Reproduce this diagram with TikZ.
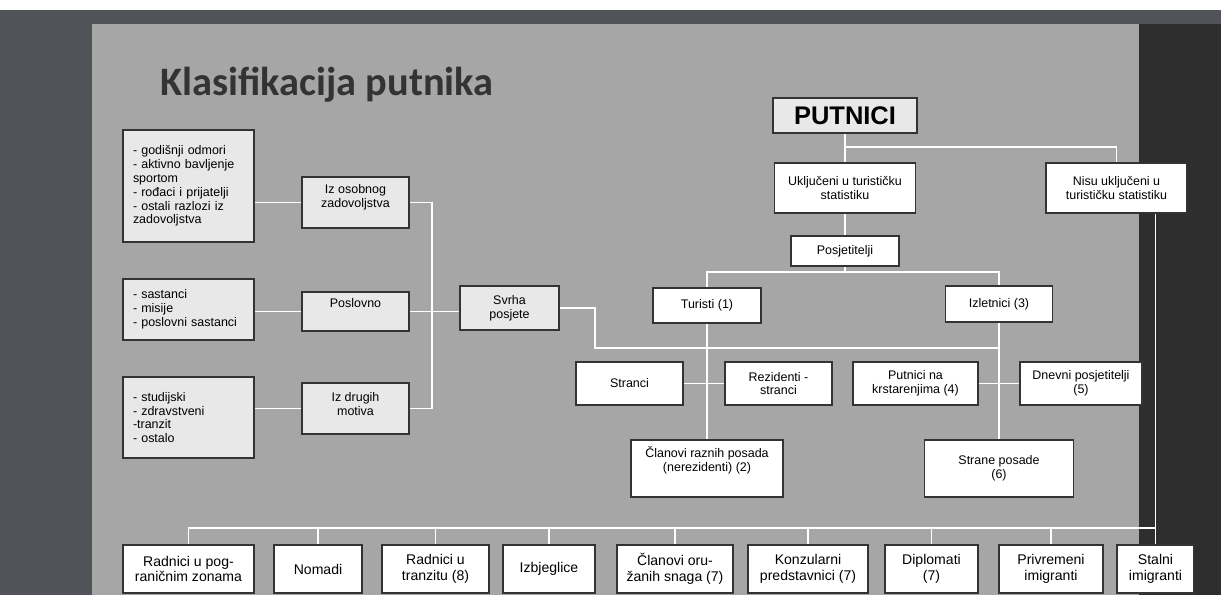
\documentclass[tikz,border=0pt]{standalone}
\usepackage{fontspec}
\setmainfont{Liberation Sans}
\newfontfamily\titlefont{Carlito}
\usetikzlibrary{backgrounds}
\definecolor{slidegrey}{HTML}{A6A6A6}
\definecolor{framegrey}{HTML}{505458}
\definecolor{sidedark}{HTML}{2E2E2E}
\definecolor{boxgrey}{HTML}{E8E8E8}
\definecolor{titletext}{HTML}{333333}

\begin{document}
\begin{tikzpicture}[x=0.02cm,y=-0.02cm,
	white node/.style={draw=black!80,line width=0.8pt,fill=white,inner sep=2pt,align=center,
		font=\fontsize{7.1}{7.9}\selectfont},
	grey node/.style={white node,fill=boxgrey},
	list node/.style={grey node,align=left,inner xsep=5.7pt,text width=2.22cm},
	low node/.style={white node,font=\fontsize{8}{8.9}\selectfont,minimum height=0.96cm},
	wire/.style={draw=white,line width=1.1pt}]

	\useasboundingbox (0,0) rectangle (1221,595);
	\begin{scope}[on background layer]
		\fill[white] (0,0) rectangle (1221,595);
		\fill[framegrey] (0,10) rectangle (1221,595);
		\fill[sidedark] (1139,24) rectangle (1221,595);
		\fill[slidegrey] (92,24) rectangle (1139,595);
	\end{scope}

	\node[anchor=base west,inner sep=0,text=titletext,
		font=\titlefont\bfseries\fontsize{23}{27}\selectfont] (title) at (160,95) {Klasifikacija putnika};

	% lijeva strana
	\node[list node,minimum height=2.24cm] (L1) at (188.5,186) {- godišnji odmori\\- aktivno bavljenje\\sportom\\- rođaci i prijatelji\\- ostali razlozi iz\\zadovoljstva};
	\node[list node,minimum height=1.22cm] (L2) at (188.5,309.5) {- sastanci\\- misije\\- poslovni sastanci};
	\node[list node,minimum height=1.62cm] (L3) at (188.5,417.5) {- studijski\\- zdravstveni\\-tranzit\\- ostalo};
	\node[grey node,minimum width=2.14cm,minimum height=1.02cm,text depth=7.5pt] (M1) at (355.5,202.5) {Iz osobnog\\zadovoljstva};
	\node[grey node,minimum width=2.14cm,minimum height=0.78cm,text depth=9.6pt] (M2) at (355.5,311.5) {Poslovno};
	\node[grey node,minimum width=2.14cm,minimum height=1.02cm,text depth=5.6pt] (M3) at (355.5,408.5) {Iz drugih\\motiva};
	\node[grey node,minimum width=1.98cm,minimum height=0.88cm] (SV) at (509.5,308) {Svrha\\posjete};

	% desna strana
	\node[grey node,minimum width=2.88cm,minimum height=0.7cm,
		font=\bfseries\fontsize{14.5}{16}\selectfont] (PUT) at (845,115.5) {PUTNICI};
	\node[white node,minimum width=2.82cm,minimum height=1cm] (UK) at (845,188) {Uključeni u turističku\\statistiku};
	\node[white node,minimum width=2.82cm,minimum height=1cm] (NI) at (1116.5,188) {Nisu uključeni u\\turističku statistiku};
	\node[white node,minimum width=2.16cm,minimum height=0.6cm] (PO) at (845,251) {Posjetitelji};
	\node[white node,minimum width=2.16cm,minimum height=0.7cm] (TU) at (707,305.5) {Turisti (1)};
	\node[white node,minimum width=2.14cm,minimum height=0.72cm] (IZ) at (999,304) {Izletnici (3)};
	\node[white node,minimum width=2.14cm,minimum height=0.86cm] (SR) at (629.5,383.5) {Stranci};
	\node[white node,minimum width=2.14cm,minimum height=0.86cm] (RZ) at (778.5,383.5) {Rezidenti -\\stranci};
	\node[white node,minimum width=2.5cm,minimum height=0.86cm] (KR) at (915.5,383.5) {Putnici na\\krstarenjima (4)};
	\node[white node,minimum width=2.44cm,minimum height=0.86cm] (DN) at (1081,383.5) {Dnevni posjetitelji\\(5)};
	\node[white node,minimum width=3.04cm,minimum height=1.14cm,text depth=11pt] (CL) at (707,468.5) {Članovi raznih posada\\(nerezidenti) (2)};
	\node[white node,minimum width=2.98cm,minimum height=1.14cm] (SP) at (999,468.5) {Strane posade\\(6)};

	% donji red
	\node[low node,minimum width=2.62cm] (B1) at (188.5,569) {Radnici u pog-\\raničnim zonama};
	\node[low node,minimum width=1.76cm] (B2) at (318,569) {Nomadi};
	\node[low node,minimum width=2.14cm] (B3) at (435.5,569) {Radnici u\\tranzitu (8)};
	\node[low node,minimum width=1.84cm] (B4) at (549,569) {Izbjeglice};
	\node[low node,minimum width=2.32cm] (B5) at (675,569) {Članovi oru-\\žanih snaga (7)};
	\node[low node,minimum width=2.4cm] (B6) at (808,569) {Konzularni\\predstavnici (7)};
	\node[low node,minimum width=1.86cm] (B7) at (931.5,569) {Diplomati\\(7)};
	\node[low node,minimum width=2.08cm] (B8) at (1051,569) {Privremeni\\imigranti};
	\node[low node,minimum width=1.54cm] (B9) at (1155.5,569) {Stalni\\imigranti};

	\coordinate (mj) at (432,311);
	\coordinate (sj) at (595,348);
	\coordinate (pj) at (845,147);
	\coordinate (pk) at (845,272);
	\coordinate (bj) at (0,528);

	\begin{scope}[on background layer]
		\draw[wire] (L1.east |- M1.west) -- (M1.west);
		\draw[wire] (L2.east |- M2.west) -- (M2.west);
		\draw[wire] (L3.east |- M3.west) -- (M3.west);
		\draw[wire] (M1.east) -| (mj) |- (M3.east);
		\draw[wire] (M2.east) -- (M2.east -| SV.west);
		\draw[wire] (SV.east) -| (sj) -- (sj -| IZ.south);

		\draw[wire] (PUT.south) -- (UK.north);
		\draw[wire] (pj) -| (NI.north);
		\draw[wire] (UK.south) -- (PO.north);
		\draw[wire] (PO.south) -- (pk);
		\draw[wire] (TU.north) |- (pk) -| (IZ.north);
		\draw[wire] (TU.south) -- (CL.north);
		\draw[wire] (IZ.south) -- (SP.north);
		\draw[wire] (SR.east) -- (RZ.west);
		\draw[wire] (KR.east) -- (DN.west);

		\draw[wire] (B9.north |- NI.south) -- (B9.north);
		\draw[wire] (B1.north) |- (bj -| B9.north);
		\foreach \n in {B2,B3,B4,B5,B6,B7,B8}
			\draw[wire] (\n.north) -- (\n.north |- bj);
	\end{scope}
\end{tikzpicture}
\end{document}
